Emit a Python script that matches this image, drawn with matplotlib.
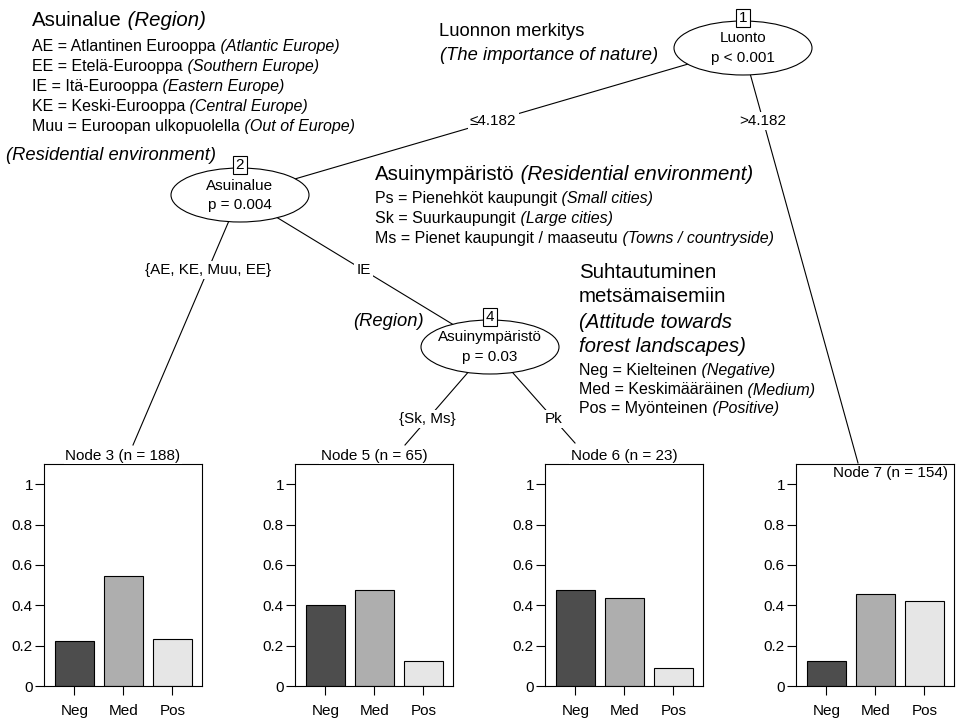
import matplotlib
matplotlib.use("Agg")
import matplotlib.pyplot as plt
from matplotlib.patches import Ellipse

plt.rcParams['font.family'] = ['Liberation Sans', 'DejaVu Sans']

# ---------------- data ----------------
categories = ["Neg", "Med", "Pos"]
node3_values = [0.223, 0.543, 0.234]
node5_values = [0.400, 0.477, 0.123]
node6_values = [0.478, 0.435, 0.087]
node7_values = [0.123, 0.455, 0.422]
terminal_ids = [3, 5, 6, 7]
terminal_ns = [188, 65, 23, 154]
yticks = [0, 0.2, 0.4, 0.6, 0.8, 1]
ytick_labels = ["0", "0.2", "0.4", "0.6", "0.8", "1"]
bar_colors = ["#4d4d4d", "#aeaeae", "#e6e6e6"]

inner_ids = [1, 2, 4]
inner_vars = ["Luonto", "Asuinalue", "Asuinympäristö"]
inner_pvals = ["p < 0.001", "p = 0.004", "p = 0.03"]
edge_labels = ["≤4.182", ">4.182", "{AE, KE, Muu, EE}", "IE", "{Sk, Ms}", "Pk"]

legend_region_title = [("Asuinalue", "normal"), (" (Region)", "italic")]
legend_region = [
    [("AE = Atlantinen Eurooppa", "normal"), (" (Atlantic Europe)", "italic")],
    [("EE = Etelä-Eurooppa", "normal"), (" (Southern Europe)", "italic")],
    [("IE = Itä-Eurooppa", "normal"), (" (Eastern Europe)", "italic")],
    [("KE = Keski-Eurooppa", "normal"), (" (Central Europe)", "italic")],
    [("Muu = Euroopan ulkopuolella", "normal"), (" (Out of Europe)", "italic")],
]
legend_env_title = [("Asuinympäristö", "normal"), (" (Residential environment)", "italic")]
legend_env = [
    [("Ps = Pienehköt kaupungit", "normal"), (" (Small cities)", "italic")],
    [("Sk = Suurkaupungit", "normal"), (" (Large cities)", "italic")],
    [("Ms = Pienet kaupungit / maaseutu", "normal"), (" (Towns / countryside)", "italic")],
]
legend_att_title = [("Suhtautuminen", "normal"), ("metsämaisemiin", "normal"),
                    ("(Attitude towards", "italic"), ("forest landscapes)", "italic")]
legend_att = [
    [("Neg = Kielteinen", "normal"), (" (Negative)", "italic")],
    [("Med = Keskimääräinen", "normal"), (" (Medium)", "italic")],
    [("Pos = Myönteinen", "normal"), (" (Positive)", "italic")],
]

# ---------------- layout (pixels) ----------------
W, H = 957, 720
TITLE, ANNOT, LEG, SMALL = 14.7, 13.2, 11.5, 11

fig = plt.figure(figsize=(W / 100, H / 100), dpi=100)
bg = fig.add_axes([0, 0, 1, 1])
bg.set_xlim(0, W)
bg.set_ylim(H, 0)
bg.axis('off')


def rich(x, y, parts, size):
    t = bg.text(x, y, parts[0][0], fontsize=size, style=parts[0][1],
                ha='left', va='center')
    for s, st in parts[1:]:
        t = bg.annotate(s, xy=(1, 0.5), xycoords=t, fontsize=size, style=st,
                        ha='left', va='center')


# left legend
rich(32, 20, legend_region_title, TITLE)
for parts, y in zip(legend_region, [47, 67, 86, 106, 126]):
    rich(32, y, parts, LEG)
bg.text(6, 155, "(Residential environment)", fontsize=ANNOT, style='italic',
        ha='left', va='center')

# nature annotation
bg.text(439, 32, "Luonnon merkitys", fontsize=ANNOT, ha='left', va='center')
bg.text(440, 56, "(The importance of nature)", fontsize=ANNOT, style='italic',
        ha='left', va='center')

# residential environment legend
rich(375, 175, legend_env_title, TITLE)
for parts, y in zip(legend_env, [198, 218, 238]):
    rich(375, y, parts, LEG)

# attitude legend
for (s, st), y in zip(legend_att_title, [272, 297, 322, 347]):
    bg.text(579, y, s, fontsize=TITLE, style=st, ha='left', va='center')
for parts, y in zip(legend_att, [371, 390, 409]):
    rich(579, y, parts, LEG)

bg.text(424, 322, "(Region)", fontsize=ANNOT, style='italic', ha='right', va='center')

# tree nodes: centres
node_pos = {1: (743, 48), 2: (240, 195), 4: (490, 347)}
ell_w, ell_h = 138, 54
# edges: parent, child end point, label y
edges = [
    (1, (240, 195), 121),
    (1, (858, 463), 121),
    (2, (133, 445), 270),
    (2, (490, 347), 270),
    (4, (405, 445), 419),
    (4, (575, 443), 419),
]
for (parent, (x1, y1), ly), lab in zip(edges, edge_labels):
    x0, y0 = node_pos[parent]
    bg.plot([x0, x1], [y0, y1], color='black', lw=0.8, zorder=1)
    lx = x0 + (x1 - x0) * (ly - y0) / (y1 - y0)
    bg.text(lx, ly, lab, fontsize=SMALL, ha='center', va='center', zorder=3,
            bbox=dict(facecolor='white', edgecolor='none', pad=1.5))

for nid, var, pv in zip(inner_ids, inner_vars, inner_pvals):
    x, y = node_pos[nid]
    bg.add_patch(Ellipse((x, y), ell_w, ell_h, facecolor='white',
                         edgecolor='black', lw=0.8, zorder=4))
    bg.text(x, y - 9.5, var, fontsize=SMALL, ha='center', va='center', zorder=5)
    bg.text(x, y + 10, pv, fontsize=SMALL, ha='center', va='center', zorder=5)
    bg.text(x, y - ell_h / 2 - 3, str(nid), fontsize=SMALL, ha='center',
            va='center', zorder=6,
            bbox=dict(boxstyle='square,pad=0.15', facecolor='white',
                      edgecolor='black', lw=0.8))

# terminal panels
panel_left = [44, 295, 545, 796]
panel_w = 158
panel_top, panel_bottom = 464, 686
values = [node3_values, node5_values, node6_values, node7_values]
xs = [1, 2, 3]
for k, (left, vals, nid, n) in enumerate(zip(panel_left, values, terminal_ids, terminal_ns)):
    ax = fig.add_axes([left / W, (H - panel_bottom) / H, panel_w / W,
                       (panel_bottom - panel_top) / H])
    ax.set_zorder(2)
    ax.bar(xs, vals, width=0.786, color=bar_colors, edgecolor='black', lw=0.8)
    ax.set_xlim(0.378, 3.602)
    ax.set_ylim(0, 1.1)
    ax.set_xticks(xs)
    ax.set_xticklabels(categories)
    ax.set_yticks(yticks)
    ax.set_yticklabels(ytick_labels)
    ax.tick_params(axis='both', direction='out', length=6.5, width=0.8,
                   labelsize=SMALL)
    ax.tick_params(axis='y', pad=1.5)
    ax.tick_params(axis='x', pad=6.5)
    for sp in ax.spines.values():
        sp.set_linewidth(0.8)
    label = f"Node {nid} (n = {n})"
    if k == 3:
        ax.text(0.962, 1 - 9 / 222, label, transform=ax.transAxes,
                fontsize=SMALL, ha='right', va='center')
    else:
        ax.text(0.5, 1 + 8 / 222, label, transform=ax.transAxes, fontsize=SMALL,
                ha='center', va='center', clip_on=False,
                bbox=dict(facecolor='white', edgecolor='none', pad=1))

fig.savefig("out.png", dpi=100)
